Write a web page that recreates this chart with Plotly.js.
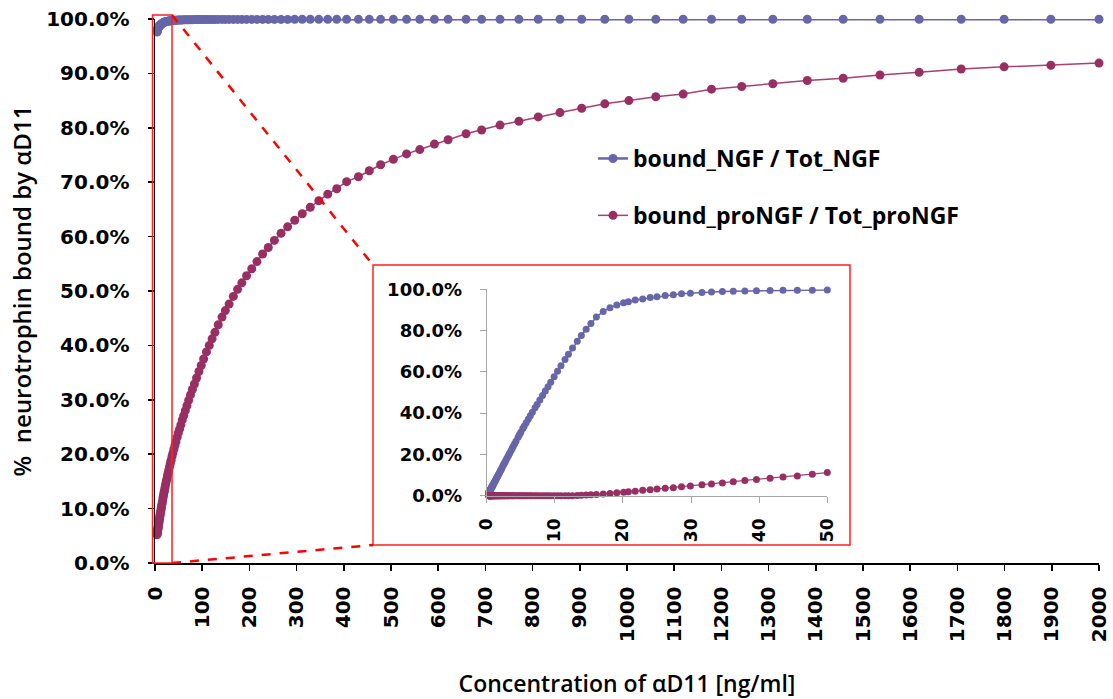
<!DOCTYPE html>
<html>
<head>
<meta charset="utf-8">
<script src="https://cdn.plot.ly/plotly-3.0.1.min.js"></script>
<style>html,body{margin:0;padding:0;background:#fff;}#chart{width:1113px;height:699px;}</style>
</head>
<body>
<div id="chart"></div>
<script>
// ---------- main chart data (x in ng/ml, y in %) ----------
const mainX = [
  4.2,4.4,4.7,4.9,5.2,5.4,5.7,6.0,6.4,6.7,
  7.1,7.4,7.8,8.3,8.7,9.2,9.7,10.2,10.7,11.3,
  11.9,12.6,13.3,14.0,14.7,15.5,16.4,17.2,18.2,19.2,
  20.2,21.3,22.4,23.6,24.9,26.3,27.7,29.2,30.8,32.4,
  34.2,36.0,37.9,40.0,42.2,44.4,46.8,49.4,52.0,54.8,
  57.8,60.9,64.2,67.7,71.3,75.2,79.2,83.5,88,93,
  98,103,109,115,121,127,134,142,149,157,
  166,175,184,194,205,216,228,240,253,267,
  281,296,312,329,347,366,385,406,431,454,
  478,505,533,561,592,621,659,692,731,771,
  812,858,904,953,1004,1061,1119,1179,1243,1309,
  1382,1458,1536,1619,1708,1799,1898,2000
];
const mainNGF = [
  97.6,97.7,97.8,97.9,98.0,98.05,98.1,98.2,98.3,98.35,
  98.4,98.45,98.5,98.6,98.65,98.7,98.75,98.8,98.85,98.9,
  98.95,99.0,99.05,99.1,99.15,99.2,99.25,99.3,99.35,99.4,
  99.43,99.46,99.5,99.52,99.55,99.58,99.6,99.62,99.65,99.67,
  99.69,99.71,99.73,99.75,99.76,99.78,99.79,99.8,99.81,99.82,
  99.83,99.84,99.85,99.86,99.87,99.87,99.88,99.89,99.89,99.9,
  99.9,99.9,99.9,99.91,99.91,99.91,99.92,99.92,99.92,99.92,
  99.93,99.93,99.93,99.93,99.93,99.93,99.93,99.93,99.93,99.93,
  99.93,99.94,99.94,99.94,99.94,99.94,99.94,99.94,99.94,99.94,
  99.94,99.94,99.94,99.94,99.94,99.94,99.94,99.94,99.94,99.94,
  99.95,99.95,99.95,99.95,99.95,99.95,99.95,99.95,99.95,99.95,
  99.95,99.95,99.95,99.95,99.95,99.95,99.95,99.95
];
const mainProNGF = [
  5.2,5.3,5.5,5.6,5.8,5.9,6.1,6.2,6.4,6.6,
  6.8,7.0,7.2,7.4,7.7,7.9,8.2,8.5,8.8,9.1,
  9.4,9.7,10.1,10.4,10.8,11.2,11.6,12.1,12.5,13.0,
  13.4,13.9,14.4,14.9,15.4,16.0,16.5,17.1,17.7,18.3,
  18.9,19.6,20.2,20.9,21.6,22.3,23.1,23.9,24.6,25.4,
  26.3,27.1,28.0,28.9,29.9,30.9,31.9,32.9,34.0,35.2,
  36.3,37.5,38.8,40.0,41.2,42.4,43.8,45.2,46.4,47.6,
  49.0,50.3,51.5,52.8,54.1,55.4,56.8,58.0,59.3,60.6,
  61.8,63.0,64.2,65.4,66.6,67.8,68.8,70.1,71.0,72.1,
  73.2,74.2,75.2,76.0,77.0,77.8,78.9,79.6,80.5,81.2,
  82.0,82.8,83.6,84.4,85.0,85.7,86.2,87.1,87.6,88.1,
  88.7,89.1,89.7,90.2,90.8,91.2,91.5,91.9
];

// ---------- inset data (0-50 ng/ml) ----------
const insetX = [
  0.30,0.32,0.33,0.35,0.37,0.39,0.41,0.43,0.45,0.47,
  0.50,0.52,0.55,0.57,0.60,0.64,0.67,0.70,0.74,0.78,
  0.82,0.86,0.90,0.95,1.00,1.06,1.11,1.17,1.23,1.29,
  1.35,1.42,1.49,1.56,1.64,1.72,1.80,1.90,2.00,2.10,
  2.20,2.30,2.43,2.55,2.67,2.80,2.95,3.10,3.25,3.40,
  3.60,3.75,3.90,4.10,4.30,4.60,4.80,5.00,5.30,5.50,
  5.80,6.10,6.40,6.70,7.10,7.40,7.80,8.20,8.60,9.00,
  9.40,9.90,10.4,10.9,11.5,12.0,12.6,13.3,13.9,14.6,
  15.3,16.1,17.1,18.1,19.1,20.1,20.8,21.8,22.9,24.0,
  25.0,26.2,27.4,28.6,29.9,31.6,33.0,34.6,36.2,37.9,
  39.6,41.6,43.5,45.6,47.8,50.0
];
const insetNGF = [
  1.5,1.6,1.7,1.8,1.9,2.0,2.1,2.3,2.4,2.5,
  2.7,2.8,3.0,3.1,3.3,3.5,3.7,3.9,4.1,4.3,
  4.6,4.8,5.1,5.4,5.7,6.0,6.4,6.7,7.1,7.5,
  7.9,8.3,8.8,9.2,9.7,10.2,10.7,11.3,12.0,12.6,
  13.2,13.9,14.7,15.5,16.2,17.0,18.0,18.9,19.9,20.8,
  22.0,23.0,23.9,25.2,26.4,28.3,29.5,30.7,32.6,33.7,
  35.4,37.0,38.7,40.4,42.6,44.2,46.4,48.6,50.7,52.8,
  55.0,57.6,60.3,63.0,66.0,68.5,71.5,74.8,77.6,80.6,
  83.4,86.6,89.3,91.1,92.4,93.5,94.0,94.8,95.3,96.0,
  96.4,97.0,97.4,97.8,98.1,98.5,98.7,98.9,99.1,99.2,
  99.3,99.4,99.5,99.55,99.6,99.65
];
const insetProNGF = [
  0,0,0,0,0,0,0,0,0,0,
  0,0,0,0,0,0,0,0,0,0,
  0,0,0,0,0,0,0,0,0,0,
  0,0,0,0,0,0,0,0,0,0,
  0,0,0,0,0,0,0,0,0,0,
  0,0,0,0,0,0,0,0,0,0,
  0,0,0,0,0,0,0,0,0,0,
  0,0,0,0,0,0,0,0.1,0.2,0.3,
  0.4,0.6,0.8,1.1,1.4,1.7,1.9,2.2,2.6,2.9,
  3.2,3.6,3.9,4.3,4.7,5.3,5.7,6.2,6.8,7.4,
  7.9,8.5,9.0,9.6,10.4,11.2
];

const seriesNames = ["bound_NGF / Tot_NGF", "bound_proNGF / Tot_proNGF"];
const mainXTicks = [0,100,200,300,400,500,600,700,800,900,1000,1100,1200,1300,1400,1500,1600,1700,1800,1900,2000];

const cNGF = "#6666A8";
const cPro = "#982F62";
const cProLine = "#A8406F";

const traces = [
  {x: mainX, y: mainNGF, name: seriesNames[0], type: "scatter", mode: "lines+markers",
   line: {color: cNGF, width: 2.5}, marker: {color: cNGF, size: 9}, cliponaxis: false,
   legendgroup: "a"},
  {x: mainX, y: mainProNGF, name: seriesNames[1], type: "scatter", mode: "lines+markers",
   line: {color: cProLine, width: 1.5}, marker: {color: cPro, size: 9}, cliponaxis: false,
   legendgroup: "b"},
  {x: insetX, y: insetNGF, xaxis: "x2", yaxis: "y2", type: "scatter", mode: "lines+markers",
   line: {color: cNGF, width: 1.5}, marker: {color: cNGF, size: 7}, cliponaxis: false, showlegend: false},
  {x: insetX, y: insetProNGF, xaxis: "x2", yaxis: "y2", type: "scatter", mode: "lines+markers",
   line: {color: cProLine, width: 1.2}, marker: {color: cPro, size: 7}, cliponaxis: false, showlegend: false}
];

const tickFontMain = {family: "DejaVu Sans", size: 20, color: "#000", weight: "bold"};
const W = 1113, H = 699, L = 155, R = 14, T = 19, B = 136;
const pw = W - L - R, ph = H - T - B;
const px = v => (v - L) / pw;
const py = v => (H - B - v) / ph;

const layout = {
  width: W, height: H,
  margin: {l: L, r: R, t: T, b: B},
  paper_bgcolor: "#fff", plot_bgcolor: "rgba(0,0,0,0)",
  showlegend: true,
  legend: {x: px(593), y: py(137), xanchor: "left", yanchor: "top",
           font: {family: "Open Sans", size: 23, color: "#000", weight: "bold"},
           bgcolor: "rgba(0,0,0,0)", tracegroupgap: 24, traceorder: "grouped"},
  xaxis: {range: [0, 2000], tickvals: mainXTicks, tickangle: -90, showgrid: false, zeroline: false,
          showline: true, linecolor: "#000", linewidth: 1.5, ticks: "outside", ticklen: 6, tickwidth: 1.5,
          tickcolor: "#000", tickfont: tickFontMain, ticklabelstandoff: 8,
          title: {text: "Concentration of αD11 [ng/ml]", standoff: 38,
                  font: {family: "Open Sans", size: 23, color: "#000", weight: 600}}},
  yaxis: {range: [0, 100], dtick: 10, tickformat: ".1f", ticksuffix: "%", showgrid: false, zeroline: false,
          showline: true, linecolor: "#000", linewidth: 1.5, ticks: "outside", ticklen: 6, tickwidth: 1.5,
          tickcolor: "#000", tickfont: tickFontMain, ticklabelstandoff: 14,
          title: {text: "%  neurotrophin bound by αD11", standoff: 8,
                  font: {family: "Open Sans", size: 24, color: "#000", weight: 600}}},
  xaxis2: {domain: [px(486.7), px(827.3)], anchor: "y2", range: [0, 50], dtick: 10, tickangle: -90,
           showgrid: false, zeroline: false, showline: true, linecolor: "#A6A6A6", linewidth: 1,
           ticks: "outside", ticklen: 6, tickcolor: "#A6A6A6",
           tickfont: {family: "DejaVu Sans", size: 17, color: "#000", weight: "bold"}, ticklabelstandoff: 9},
  yaxis2: {domain: [py(495.7), py(289.3)], anchor: "x2", range: [0, 100], dtick: 20, tickformat: ".1f",
           ticksuffix: "%", showgrid: false, zeroline: false, showline: true, linecolor: "#A6A6A6", linewidth: 1,
           ticks: "outside", ticklen: 6, tickcolor: "#A6A6A6",
           tickfont: {family: "DejaVu Sans", size: 18, color: "#000", weight: "bold"}, ticklabelstandoff: 14},
  shapes: [
    {type: "rect", xref: "paper", yref: "paper", x0: px(152.5), x1: px(172), y0: py(563), y1: py(15),
     line: {color: "#FF2020", width: 1.5}},
    {type: "rect", xref: "paper", yref: "paper", x0: px(373), x1: px(850), y0: py(545), y1: py(265),
     line: {color: "#FF2020", width: 1.5}},
    {type: "line", xref: "paper", yref: "paper", x0: px(172), y0: py(15), x1: px(373), y1: py(265),
     line: {color: "#FF0000", width: 2.5, dash: "dash"}},
    {type: "line", xref: "paper", yref: "paper", x0: px(172), y0: py(563), x1: px(373), y1: py(545),
     line: {color: "#FF0000", width: 2.5, dash: "dash"}}
  ]
};

Plotly.newPlot("chart", traces, layout, {displayModeBar: false, staticPlot: true});
</script>
</body>
</html>
